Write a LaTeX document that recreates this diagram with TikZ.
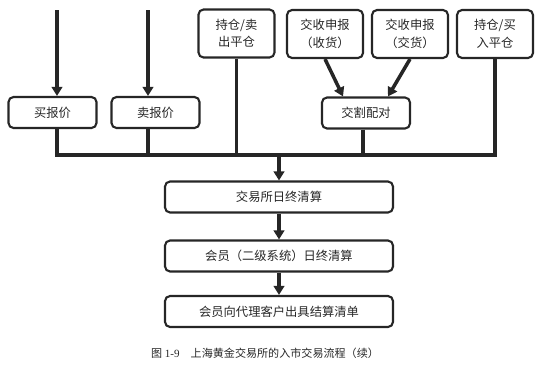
\documentclass[tikz,border=0pt]{standalone}
\usepackage{fontspec}
\setmainfont{Liberation Serif}
\newfontfamily\hei{Noto Sans CJK SC}
\usepackage{tikz}
\usetikzlibrary{arrows.meta, positioning}
\colorlet{ink}{black!85}

\begin{document}
\begin{tikzpicture}[x=0.02cm, y=-0.02cm,
    box/.style={draw=ink, line width=1.2pt, rounded corners=0.1cm, align=center,
      inner sep=0pt, font=\hei\fontsize{7}{10}\selectfont, text=ink},
    topbox/.style={box, minimum width=1.52cm, minimum height=0.96cm},
    quotebox/.style={box, minimum width=1.76cm, minimum height=0.62cm},
    widebox/.style={box, minimum width=4.56cm, minimum height=0.62cm},
    wire/.style={draw=ink, line width=2pt},
    flow/.style={wire, -{Triangle[width=0.21cm, length=0.18cm]}}]
  \useasboundingbox (0,0) rectangle (550,365);
  % --- top row ---
  \node[topbox] (closesell) at (236.5,33.5) {持仓/卖\\出平仓};
  \node[topbox] (rcv)       at (325,34)     {交收申报\\（收货）};
  \node[topbox] (dlv)       at (410,34)     {交收申报\\（交货）};
  \node[topbox] (closebuy)  at (495,34)     {持仓/买\\入平仓};
  % --- second row ---
  \node[quotebox] (buy)   at (52.5,112.5) {买报价};
  \node[quotebox] (sell)  at (155.5,112.5) {卖报价};
  \node[quotebox] (match) at (366,113)    {交割配对};
  \coordinate (buyin)  at (57,10);
  \coordinate (sellin) at (148,10);
  \draw[flow] (buyin) -- (buyin |- buy.north);
  \draw[flow] (sellin) -- (sellin |- sell.north);
  \draw[flow] (rcv.south) -- ([xshift=-0.46cm]match.north);
  \draw[flow] (dlv.south) -- ([xshift=0.44cm]match.north);
  % --- bus ---
  \coordinate (bus) at (279,155);
  \draw[wire] (buyin |- buy.south) |- (bus) -| (closebuy.south);
  \draw[wire] (sellin |- sell.south) -- (sellin |- bus);
  \draw[wire] (closesell.south) -- (closesell.south |- bus);
  \draw[wire] ([xshift=-0.06cm]match.south) -- ([xshift=-0.06cm]match.south |- bus);
  % --- clearing ---
  \node[widebox] (clear)  at (279,197)   {交易所日终清算};
  \node[widebox] (member) at (279,256)   {会员（二级系统）日终清算};
  \node[widebox] (stmt)   at (279,311.5) {会员向代理客户出具结算清单};
  \draw[flow] (bus) -- (clear.north);
  \draw[flow] (clear) -- (member);
  \draw[flow] (member) -- (stmt);
  \node[font=\fontsize{6.3}{8}\selectfont, text=ink] (cap) at (265,353)
    {{\hei 图} 1-9\quad{\hei 上海黄金交易所的入市交易流程（续）}};
\end{tikzpicture}
\end{document}
